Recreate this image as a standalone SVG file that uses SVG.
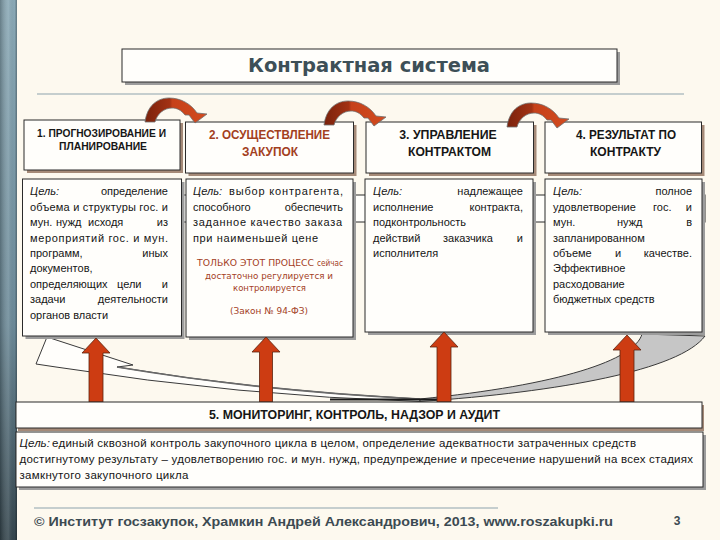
<svg xmlns="http://www.w3.org/2000/svg" width="720" height="540" viewBox="0 0 720 540">
<defs>
<linearGradient id="barV" x1="0" y1="0" x2="0" y2="1">
<stop offset="0" stop-color="#8aa9b6"/>
<stop offset="0.6" stop-color="#6c8a98"/>
<stop offset="1" stop-color="#34454d"/>
</linearGradient>
<linearGradient id="barH" x1="0" y1="0" x2="1" y2="0">
<stop offset="0" stop-color="#000" stop-opacity="0.25"/>
<stop offset="0.5" stop-color="#fff" stop-opacity="0.12"/>
<stop offset="0.85" stop-color="#000" stop-opacity="0"/>
<stop offset="1" stop-color="#000" stop-opacity="0.3"/>
</linearGradient>
<linearGradient id="arch" x1="0" y1="0" x2="1" y2="0">
<stop offset="0" stop-color="#7a220c"/>
<stop offset="0.4" stop-color="#a33214"/>
<stop offset="0.44" stop-color="#c6411a"/>
<stop offset="1" stop-color="#d24b1f"/>
</linearGradient>
<path id="archArrow" d="M0,24 C2,8 12,0 24,0 C36,0 46,6 52,15 L62,16 L50,25 L44,17 L40,17 C36,12 32,10 27,10 C19,10 12,16 10,24 Z"/>
</defs>
<style>
.box{fill:#fffefb;stroke:#2a2a2a;stroke-width:1}
.shd{fill:#9c9c9c}
.shb{fill:#a58a78}
.hd{font-family:"Liberation Sans",Arial,sans-serif;font-weight:bold;fill:#161616;text-anchor:middle}
.g{font-family:"Liberation Sans",Arial,sans-serif;font-size:11px;fill:#151515}
.i{font-style:italic}
.e{text-anchor:end}
.rd{font-family:"DejaVu Sans",Verdana,sans-serif;font-size:9px;fill:#a3401e}
.m{text-anchor:middle}
.up{fill:#cd3c12;stroke:#5a2410;stroke-width:0.8}
.arc{fill:url(#arch);stroke:#6e6e6e;stroke-width:0.8}
.sep{stroke:#8ea4ae;stroke-width:1.2}
</style>
<rect x="0" y="0" width="720" height="540" fill="#fdf9ef"/>
<g id="sidebar">
<rect x="0" y="0" width="17" height="540" fill="url(#barV)"/>
<rect x="0" y="0" width="17" height="540" fill="url(#barH)"/>
</g>
<g id="title">
<rect class="shd" x="125" y="52" width="495" height="33"/>
<rect class="box" x="122" y="49" width="495" height="33"/>
<text x="369" y="72" font-family="'DejaVu Sans',Verdana,sans-serif" font-weight="bold" font-size="19" fill="#3d4f57" text-anchor="middle" textLength="242" lengthAdjust="spacingAndGlyphs">Контрактная система</text>
</g>
<line class="sep" x1="37" y1="94" x2="684" y2="94"/>
<g id="connectors">
<rect x="100" y="195" width="605" height="27" fill="#fffefb" stroke="#2a2a2a" stroke-width="1"/>
<path d="M47,337 L133,365 L117,367 Q260,391 420,399 L420,401.5 Q240,396 56,367 L36,364 Z" fill="#fffefb" stroke="#3a3a3a" stroke-width="1"/>
<path d="M117,367 Q260,391 420,399" fill="none" stroke="#6a6a6a" stroke-width="1.6"/>
<path d="M642,334 C635,360 560,385 420,399 L420,401.5 C560,392 680,370 705,336 Z" fill="#c6c6c6" stroke="#3a3a3a" stroke-width="1"/>
<line x1="330" y1="399.5" x2="440" y2="399.5" stroke="#1a1a1a" stroke-width="2"/>
</g>
<g id="n1">
<rect class="shb" x="27" y="123" width="156" height="50"/>
<rect class="box" x="24" y="120" width="156" height="50"/>
<text class="hd" x="101.5" y="137" font-size="10.5" textLength="129" lengthAdjust="spacingAndGlyphs">1. ПРОГНОЗИРОВАНИЕ И</text>
<text class="hd" x="103" y="149.5" font-size="10.5" textLength="88" lengthAdjust="spacingAndGlyphs">ПЛАНИРОВАНИЕ</text>
</g>
<g id="n2">
<rect class="shb" x="188.5" y="125" width="168" height="51"/>
<rect class="box" x="185.5" y="122" width="168" height="51"/>
<text class="hd" x="269.5" y="139" font-size="12" style="fill:#a3401e" textLength="121" lengthAdjust="spacingAndGlyphs">2. ОСУЩЕСТВЛЕНИЕ</text>
<text class="hd" x="270" y="156" font-size="12" style="fill:#a3401e" textLength="56" lengthAdjust="spacingAndGlyphs">ЗАКУПОК</text>
</g>
<g id="n3">
<rect class="shb" x="369" y="125" width="167.5" height="51"/>
<rect class="box" x="366" y="122" width="167.5" height="51"/>
<text class="hd" x="448" y="139" font-size="12" textLength="97.5" lengthAdjust="spacingAndGlyphs">3. УПРАВЛЕНИЕ</text>
<text class="hd" x="449.5" y="156" font-size="12" textLength="83" lengthAdjust="spacingAndGlyphs">КОНТРАКТОМ</text>
</g>
<g id="n4">
<rect class="shb" x="548" y="125" width="156.5" height="51"/>
<rect class="box" x="545" y="122" width="156.5" height="51"/>
<text class="hd" x="626" y="139" font-size="12" textLength="100" lengthAdjust="spacingAndGlyphs">4. РЕЗУЛЬТАТ ПО</text>
<text class="hd" x="625.5" y="156" font-size="12" textLength="71" lengthAdjust="spacingAndGlyphs">КОНТРАКТУ</text>
</g>
<g id="goal1">
<rect class="shd" x="25.5" y="182" width="159" height="157"/>
<rect class="box" x="22.5" y="179" width="159" height="157"/>
<text class="g i" x="30" y="195.3">Цель:</text>
<text class="g e" x="168" y="195.3">определение</text>
<text class="g" x="30" y="210.7" textLength="138">объема и структуры гос. и</text>
<text class="g" x="30" y="226.1">мун.</text>
<text class="g" x="56" y="226.1">нужд</text>
<text class="g" x="88" y="226.1">исходя</text>
<text class="g e" x="168" y="226.1">из</text>
<text class="g" x="30" y="241.5" textLength="138">мероприятий гос. и мун.</text>
<text class="g" x="30" y="256.9">программ,</text>
<text class="g e" x="168" y="256.9">иных</text>
<text class="g" x="30" y="272.3">документов,</text>
<text class="g" x="30" y="287.7">определяющих</text>
<text class="g" x="117" y="287.7">цели</text>
<text class="g e" x="168" y="287.7">и</text>
<text class="g" x="30" y="303.1">задачи</text>
<text class="g e" x="168" y="303.1">деятельности</text>
<text class="g" x="30" y="318.5">органов власти</text>
</g>
<g id="goal2">
<rect class="shd" x="189" y="182" width="167" height="158"/>
<rect class="box" x="186" y="179" width="167" height="158"/>
<text class="g i" x="193" y="195.3">Цель:</text>
<text class="g" x="229" y="195.3" textLength="114">выбор контрагента,</text>
<text class="g" x="193" y="210.7">способного</text>
<text class="g e" x="343" y="210.7">обеспечить</text>
<text class="g" x="193" y="226.1" textLength="149">заданное качество заказа</text>
<text class="g" x="193" y="241.5" textLength="125">при наименьшей цене</text>
<text class="rd" x="197" y="265.5" textLength="117" lengthAdjust="spacingAndGlyphs">ТОЛЬКО ЭТОТ ПРОЦЕСС</text>
<text class="rd" x="317" y="265.5" textLength="26" lengthAdjust="spacingAndGlyphs">сейчас</text>
<text class="rd m" x="269" y="279" textLength="128" lengthAdjust="spacingAndGlyphs">достаточно регулируется и</text>
<text class="rd m" x="269.5" y="291" textLength="73" lengthAdjust="spacingAndGlyphs">контролируется</text>
<text class="rd m" x="269" y="314" textLength="78" lengthAdjust="spacingAndGlyphs">(Закон № 94-ФЗ)</text>
</g>
<g id="goal3">
<rect class="shd" x="368" y="182" width="168" height="153"/>
<rect class="box" x="365" y="179" width="168" height="153"/>
<text class="g i" x="373" y="195.3">Цель:</text>
<text class="g e" x="523" y="195.3">надлежащее</text>
<text class="g" x="373" y="210.7">исполнение</text>
<text class="g e" x="523" y="210.7">контракта,</text>
<text class="g" x="373" y="226.1">подконтрольность</text>
<text class="g" x="373" y="241.5">действий</text>
<text class="g" x="443" y="241.5">заказчика</text>
<text class="g e" x="523" y="241.5">и</text>
<text class="g" x="373" y="256.9">исполнителя</text>
</g>
<g id="goal4">
<rect class="shd" x="548" y="182" width="157" height="153"/>
<rect class="box" x="545" y="179" width="157" height="153"/>
<text class="g i" x="553" y="195.3">Цель:</text>
<text class="g e" x="692" y="195.3">полное</text>
<text class="g" x="553" y="210.7">удовлетворение</text>
<text class="g" x="653" y="210.7">гос.</text>
<text class="g e" x="692" y="210.7">и</text>
<text class="g" x="553" y="226.1">мун.</text>
<text class="g" x="617" y="226.1">нужд</text>
<text class="g e" x="692" y="226.1">в</text>
<text class="g" x="553" y="241.5">запланированном</text>
<text class="g" x="553" y="256.9">объеме</text>
<text class="g" x="615" y="256.9">и</text>
<text class="g e" x="692" y="256.9">качестве.</text>
<text class="g" x="553" y="272.3">Эффективное</text>
<text class="g" x="553" y="287.7">расходование</text>
<text class="g" x="553" y="303.1">бюджетных средств</text>
</g>
<g id="cycle-arrows">
<use href="#archArrow" class="arc" transform="translate(145,98)"/>
<use href="#archArrow" class="arc" transform="translate(324,101)"/>
<use href="#archArrow" class="arc" transform="translate(507,103)"/>
</g>
<g id="up-arrows">
<path class="up" d="M96,338 L110,353 L103,353 L103,402 L89,402 L89,353 L82,353 Z"/>
<path class="up" d="M266,337 L280,352 L272.5,352 L272.5,402 L259.5,402 L259.5,352 L252,352 Z"/>
<path class="up" d="M444,332 L458,347 L451,347 L451,402 L437,402 L437,347 L430,347 Z"/>
<path class="up" d="M627,335 L641,350 L634,350 L634,402 L620,402 L620,350 L613,350 Z"/>
</g>
<g id="n5">
<rect class="shb" x="18" y="405" width="686" height="26"/>
<rect class="box" x="16" y="402" width="686" height="26"/>
<text class="hd" x="354.5" y="419" font-size="12.5" textLength="291" lengthAdjust="spacingAndGlyphs">5. МОНИТОРИНГ, КОНТРОЛЬ, НАДЗОР И АУДИТ</text>
</g>
<g id="goal5">
<rect class="shd" x="19" y="435" width="687" height="55"/>
<rect class="box" x="16" y="432" width="687" height="55"/>
<g font-family="'Liberation Sans',Arial,sans-serif" font-size="11.5" fill="#151515">
<text x="19.5" y="447" font-style="italic">Цель:</text>
<text x="52" y="447" textLength="584">единый сквозной контроль закупочного цикла в целом, определение адекватности затраченных средств</text>
<text x="19.5" y="463" textLength="673.5">достигнутому результату – удовлетворению гос. и мун.  нужд, предупреждение и пресечение нарушений на всех стадиях</text>
<text x="19.5" y="479" textLength="169">замкнутого закупочного цикла</text>
</g>
</g>
<g id="footer">
<line class="sep" x1="34" y1="508" x2="498" y2="508"/>
<text x="34" y="526" font-family="'Liberation Sans',Arial,sans-serif" font-weight="bold" font-size="13" fill="#3c4a52" textLength="579" lengthAdjust="spacingAndGlyphs">© Институт госзакупок, Храмкин Андрей Александрович, 2013, www.roszakupki.ru</text>
<text x="677" y="525" font-family="'Liberation Sans',Arial,sans-serif" font-weight="bold" font-size="12" fill="#3c4a52" text-anchor="middle">3</text>
</g>
</svg>
